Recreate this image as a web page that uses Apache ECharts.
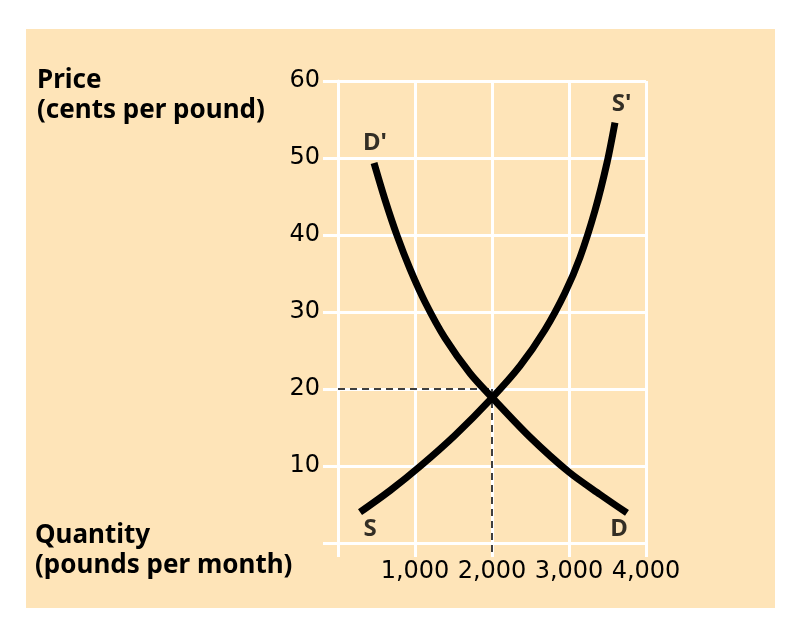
<!DOCTYPE html>
<html>
<head>
<meta charset="utf-8">
<script src="https://cdn.jsdelivr.net/npm/echarts@6/dist/echarts.min.js"></script>
<style>
html,body{margin:0;padding:0;background:#ffffff;}
#chart{width:800px;height:639px;}
</style>
</head>
<body>
<div id="chart"></div>
<script>
// Quantity (pounds per month) ticks and price (cents per pound) ticks
const quantityTicks = [0, 1000, 2000, 3000, 4000];
const priceTicks = [0, 10, 20, 30, 40, 50, 60];

// Supply curve S -> S' : [quantity, price]
const supply = [[286, 4.0], [675, 6.8], [1065, 9.95], [1520, 14.0], [2000, 18.85], [2364, 23.0], [2688, 27.7], [2948, 32.5], [3143, 37.1], [3338, 43.2], [3494, 49.4], [3597, 54.6]];
// Demand curve D' -> D : [quantity, price]
const demand = [[468, 49.35], [610, 44.6], [766, 39.95], [935, 35.6], [1130, 31.3], [1390, 26.6], [1714, 22.05], [2000, 18.9], [2494, 13.75], [3000, 9.2], [3403, 6.3], [3753, 3.9]];

// Equilibrium guide lines
const guideH = [[0, 20], [2000, 20]];
const guideV = [[2000, 20], [2000, -1.8]];

// Curve labels: [quantity, price, text]
const curveLabels = [[480, 51.9, "D'"], [3682, 57.0, "S'"], [416, 1.8, "S"], [3649, 1.8, "D"]];

const chart = echarts.init(document.getElementById('chart'), null, {renderer: 'canvas'});
const tickFont = '"DejaVu Sans", sans-serif';
const boldFont = '"Noto Sans", sans-serif';

const option = {
  animation: false,
  backgroundColor: '#ffffff',
  graphic: [
    {type: 'rect', z: -10, silent: true, shape: {x: 26, y: 29, width: 749, height: 579}, style: {fill: '#fee4b8'}},
    {type: 'text', z: 10, left: 37, top: 66, style: {text: 'Price\n(cents per pound)', font: 'bold 26px "Noto Sans"', lineHeight: 30, fill: '#000'}},
    {type: 'text', z: 10, left: 35, top: 521, style: {text: 'Quantity\n(pounds per month)', font: 'bold 26px "Noto Sans"', lineHeight: 30, fill: '#000'}}
  ],
  grid: {left: 338, right: 154, top: 81, bottom: 96, containLabel: false},
  xAxis: {
    type: 'value', min: 0, max: 4000, interval: 1000,
    axisLine: {show: true, lineStyle: {color: '#ffffff', width: 3}},
    axisTick: {show: true, length: 14, lineStyle: {color: '#ffffff', width: 3}},
    splitLine: {show: true, lineStyle: {color: '#ffffff', width: 3}},
    axisLabel: {
      margin: 17, color: '#000', fontFamily: tickFont, fontSize: 24,
      formatter: v => quantityTicks.includes(v) && v !== 0 ? v.toLocaleString('en-US') : ''
    }
  },
  yAxis: {
    type: 'value', min: 0, max: 60, interval: 10,
    axisLine: {show: true, lineStyle: {color: '#ffffff', width: 3}},
    axisTick: {show: true, length: 15, lineStyle: {color: '#ffffff', width: 3}},
    splitLine: {show: true, lineStyle: {color: '#ffffff', width: 3}},
    axisLabel: {
      margin: 18, color: '#000', fontFamily: tickFont, fontSize: 24,
      formatter: v => priceTicks.includes(v) && v !== 0 ? String(v) : ''
    }
  },
  series: [
    {type: 'line', data: guideH, symbol: 'none', z: 3, clip: false,
     lineStyle: {color: '#000', width: 1.5, type: [7, 5]}},
    {type: 'line', data: guideV, symbol: 'none', z: 3, clip: false,
     lineStyle: {color: '#000', width: 1.5, type: [7, 5]}},
    {type: 'line', name: 'Supply', data: supply, symbol: 'none', smooth: 0.3, z: 5,
     lineStyle: {color: '#000', width: 7, cap: 'butt'}},
    {type: 'line', name: 'Demand', data: demand, symbol: 'none', smooth: 0.3, z: 5,
     lineStyle: {color: '#000', width: 7, cap: 'butt'}},
    {type: 'scatter', data: curveLabels.map(d => ({value: [d[0], d[1]], name: d[2]})),
     symbolSize: 0, clip: false, z: 6,
     label: {show: true, position: 'inside', formatter: p => p.name,
             fontFamily: boldFont, fontWeight: 'bold', fontSize: 24, color: '#000'}}
  ]
};
chart.setOption(option);
</script>
</body>
</html>
